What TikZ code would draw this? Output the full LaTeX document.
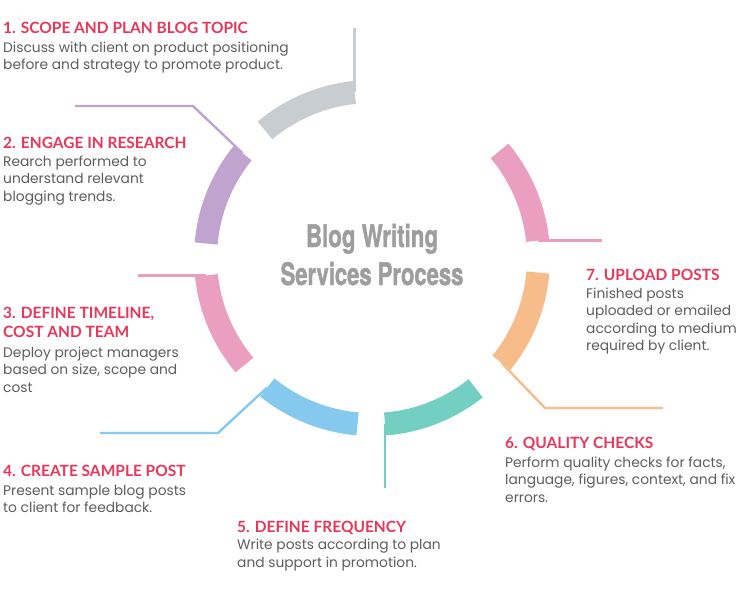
\documentclass[tikz,border=0pt]{standalone}
\usepackage{fontspec}
\usepackage{graphicx}
\usetikzlibrary{calc, positioning}

\newfontfamily\headfont{Lato}
\newfontfamily\bodyfont{Poppins}
\newfontfamily\hubfont{TeX Gyre Heros}[BoldFeatures={FakeBold=1.6}]

\definecolor{headred}{HTML}{E8375A}
\definecolor{bodygray}{HTML}{5E5E5E}
\definecolor{hubgray}{HTML}{9E9E9E}
\definecolor{segGray}{HTML}{C8CDD1}
\definecolor{segPurple}{HTML}{C0A3CF}
\definecolor{segPink}{HTML}{EA9FC0}
\definecolor{segBlue}{HTML}{86C9EE}
\definecolor{segTeal}{HTML}{74CFC3}
\definecolor{segOrange}{HTML}{F6BD8B}

\begin{document}
\begin{tikzpicture}[x=1pt, y=-1pt,
    seg/.style={line width=23pt},
    leader/.style={line width=2.4pt},
    head/.style={anchor=north west, inner sep=0pt, align=left, text=headred,
        font=\headfont\bfseries\fontsize{15.5}{19}\selectfont},
    body/.style={anchor=north west, inner sep=0pt, align=left, text=bodygray,
        font=\bodyfont\fontsize{13.8}{17.5}\selectfont},
    hub/.style={anchor=base, inner sep=0pt, text=hubgray,
        font=\hubfont\bfseries\fontsize{31}{36}\selectfont}]
    \useasboundingbox[fill=white] (0,0) rectangle (740,594);
    \coordinate (hub) at (372,258);

    % ring: one slot every 45 degrees, the top right one left empty
    \foreach \segmid/\col/\sname in {23/segPink/s7, 113/segGray/s1, 158/segPurple/s2,
            203/segPink/s3, 248/segBlue/s4, 291.5/segTeal/s5, 338/segOrange/s6} {
        \draw[seg, \col] ($(hub)+(-\segmid+17:166.5)$)
            arc[start angle=-\segmid+17, end angle=-\segmid-17, radius=166.5];
        \coordinate (\sname a) at ($(hub)+(-\segmid+17:166.5)$);
        \coordinate (\sname b) at ($(hub)+(-\segmid-17:166.5)$);
    }

    % leader lines
    \coordinate (e1) at ($(s1a)+(0,-64)$);
    \coordinate (k2) at (193,106);   \coordinate (e2) at (75,106);
    \coordinate (e3) at ($(s3a)+(-68,0)$);
    \coordinate (k4) at (218,433);   \coordinate (e4) at (100,433);
    \coordinate (e5) at ($(s5a)+(0,64)$);
    \coordinate (k6) at (545,408);   \coordinate (e6) at (663,408);
    \coordinate (e7) at ($(s7a)+(64,0)$);
    \draw[leader, segGray] (s1a) -- (e1);
    \draw[leader, segPurple] (s2a) -- (k2) -- (e2);
    \draw[leader, segPink] (s3a) -- (e3);
    \draw[leader, segBlue] (s4a) -- (k4) -- (e4);
    \draw[leader, segTeal] (s5a) -- (e5);
    \draw[leader, segOrange] (s6a) -- (k6) -- (e6);
    \draw[leader, segPink] (s7a) -- (e7);

    % centre title
    \node[hub] (h1) at (372,247) {\scalebox{0.72}[1]{Blog Writing}};
    \node[hub] (h2) at (372,285) {\scalebox{0.71}[1]{Services Process}};

    % step texts
    \node[head] (t1) at (3,19.7) {\strut 1. SCOPE AND PLAN BLOG TOPIC};
    \node[body] (b1) at (3,39.75) {\strut Discuss with client on product positioning\\
        before and strategy to promote product.};

    \node[head] (t2) at (3,134.7) {\strut 2. ENGAGE IN RESEARCH};
    \node[body] (b2) at (3,153.75) {\strut Rearch performed to\\
        understand relevant\\blogging trends.};

    \node[head] (t3) at (3,304.7) {\strut 3. DEFINE TIMELINE,\\COST AND TEAM};
    \node[body] (b3) at (3,344.75) {\strut Deploy project managers\\
        based on size, scope and\\cost};

    \node[head] (t4) at (3,462.7) {\strut 4. CREATE SAMPLE POST};
    \node[body] (b4) at (3,482.75) {\strut Present sample blog posts\\
        to client for feedback.};

    \node[head] (t5) at (237,518.7) {\strut 5. DEFINE FREQUENCY};
    \node[body] (b5) at (237,537.25) {\strut Write posts according to plan\\
        and support in promotion.};

    \node[head] (t6) at (505,434.7) {\strut 6. QUALITY CHECKS};
    \node[body] (b6) at (505,454.75) {\strut Perform quality checks for facts,\\
        language, figures, context, and fix\\errors.};

    \node[head] (t7) at (586,266.7) {\strut 7. UPLOAD POSTS};
    \node[body] (b7) at (586,285.75) {\strut Finished posts\\
        uploaded or emailed\\according to medium\\required by client.};
\end{tikzpicture}
\end{document}
